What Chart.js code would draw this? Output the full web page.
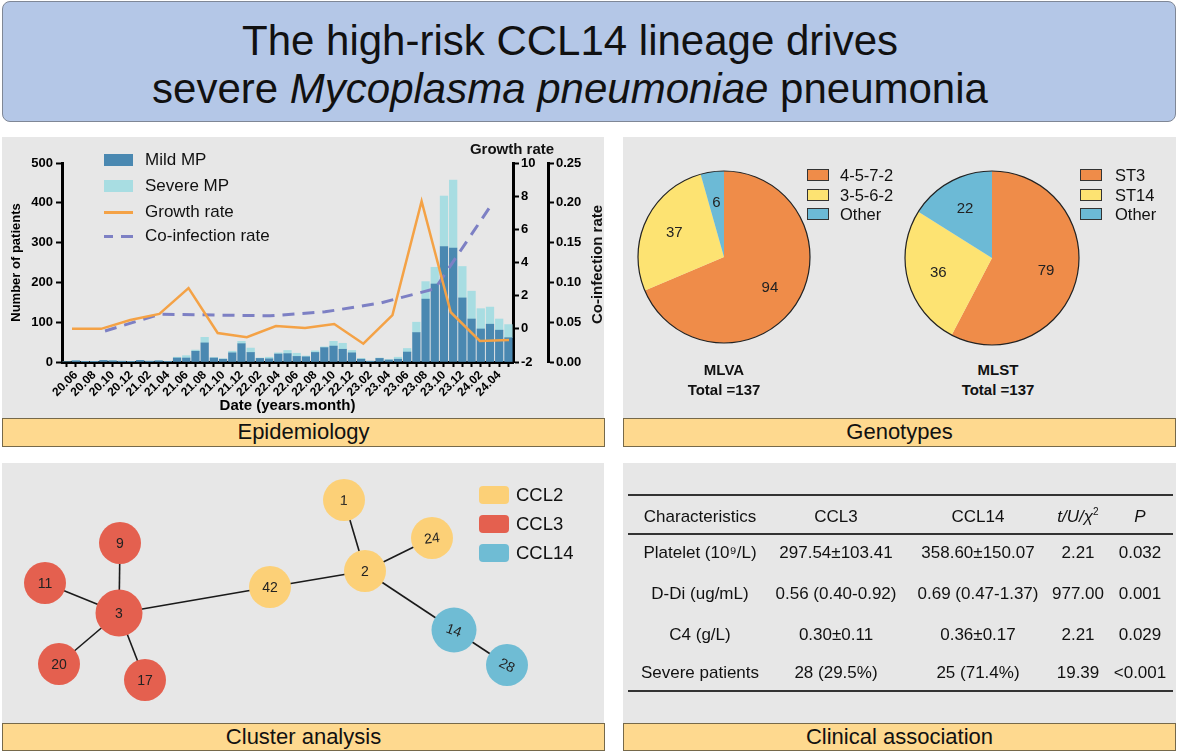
<!DOCTYPE html>
<html>
<head>
<meta charset="utf-8">
<script src="https://cdn.jsdelivr.net/npm/chart.js@4.4.1/dist/chart.umd.min.js"></script>
<style>
  body { margin: 0; width: 1178px; height: 751px; position: relative; overflow: hidden; background: #fff;
         font-family: "Liberation Sans", Arial, sans-serif; color: #111; }
  .abs { position: absolute; }
  #title { left: 2px; top: 1px; width: 1174px; height: 121px; box-sizing: border-box; background: #b4c7e7;
           border: 1px solid #7f8796; border-radius: 8px; text-align: center; font-size: 42px; line-height: 48px;
           padding-top: 15px; padding-right: 38px; }
  .panel { position: absolute; background: #e7e7e7; }
  .tag { position: absolute; box-sizing: border-box; background: #fed98f; border: 1.5px solid #76694a;
         text-align: center; font-size: 22px; line-height: 26px; }
  .leg { position: absolute; font-size: 17px; line-height: 20px; white-space: nowrap; }
  .sw { position: absolute; box-sizing: border-box; }
  .cell { position: absolute; width: 200px; margin-left: -100px; text-align: center; font-size: 17px;
          line-height: 20px; height: 20px; margin-top: -10px; white-space: nowrap; }
  .cell sup { font-size: 10px; line-height: 0; vertical-align: 7px; }
  .rule { position: absolute; left: 628px; width: 545px; height: 2px; background: #333; }
  .bold { font-weight: bold; }
</style>
</head>
<body>
<div id="title" class="abs">The high-risk CCL14 lineage drives<br>severe <i>Mycoplasma pneumoniae</i> pneumonia</div>

<div class="panel" style="left:2px;top:137px;width:602px;height:281px"></div>
<div class="panel" style="left:623px;top:137px;width:553px;height:281px"></div>
<div class="panel" style="left:2px;top:463px;width:602px;height:260px"></div>
<div class="panel" style="left:623px;top:463px;width:553px;height:260px"></div>
<div class="tag" style="left:2px;top:418px;width:603px;height:29px">Epidemiology</div>
<div class="tag" style="left:623px;top:418px;width:553px;height:29px">Genotypes</div>
<div class="tag" style="left:2px;top:723px;width:603px;height:28px">Cluster analysis</div>
<div class="tag" style="left:623px;top:723px;width:553px;height:28px">Clinical association</div>

<canvas id="epi" class="abs" width="602" height="281" style="left:2px;top:137px"></canvas>
<div id="epiLegend"></div>
<div class="abs bold" style="left:462px;top:140px;width:100px;text-align:center;font-size:15px">Growth rate</div>
<div class="abs bold" style="left:536px;top:256px;width:120px;text-align:center;font-size:15px;transform:rotate(-90deg)">Co-infection rate</div>

<canvas id="mlva" class="abs" width="180" height="180" style="left:634px;top:167px"></canvas>
<canvas id="mlst" class="abs" width="180" height="180" style="left:902px;top:168px"></canvas>
<div id="pieLegends"></div>
<div class="abs bold" style="left:664px;top:360px;width:120px;text-align:center;font-size:15px;line-height:20px">MLVA<br>Total =137</div>
<div class="abs bold" style="left:938px;top:360px;width:120px;text-align:center;font-size:15px;line-height:20px">MLST<br>Total =137</div>

<canvas id="cluster" class="abs" width="602" height="260" style="left:2px;top:463px"></canvas>
<div id="clusterLegend"></div>

<div id="table"></div>

<script>
// ---- epidemiology data ----
const months = ['20.05','20.06','20.07','20.08','20.09','20.10','20.11','20.12',
  '21.01','21.02','21.03','21.04','21.05','21.06','21.07','21.08','21.09','21.10','21.11','21.12',
  '22.01','22.02','22.03','22.04','22.05','22.06','22.07','22.08','22.09','22.10','22.11','22.12',
  '23.01','23.02','23.03','23.04','23.05','23.06','23.07','23.08','23.09','23.10','23.11','23.12',
  '24.01','24.02','24.03','24.04','24.05'];
const mildMP = [0,3,1,1,4,3,2,1, 4,2,3,1,10,10,27,48,10,7,23,46,
  24,9,8,20,21,14,13,24,36,40,32,23, 7,2,9,5,7,25,74,158,196,290,286,161, 108,83,95,80,61];
const severeMP = [0,0,0,0,0,0,0,0, 0,0,0,0,2,6,3,14,1,1,4,6,
  11,1,4,3,8,8,2,4,2,12,15,6, 2,0,1,1,5,9,26,44,42,127,171,79, 70,51,43,28,33];
// quarterly growth rate and half-yearly co-infection rate
const growthRate = [0.0, 0.0, 0.53, 0.9, 2.46, -0.25, -0.5, 0.17, 0.05, 0.29, -0.9, 0.83, 7.7, 1.0, -0.73, -0.67];
const coinfectionRate = [0.039, 0.060, 0.059, 0.058, 0.063, 0.074, 0.092, 0.195];
const patientTicks = [0, 500, 100];
const growthTicks = [-2, 10, 2];
const coinfTicks = [0, 0.25, 0.05];

// ---- genotype data ----
const mlvaTypes = ['4-5-7-2', '3-5-6-2', 'Other'];
const mlvaCounts = [94, 37, 6];
const mlstTypes = ['ST3', 'ST14', 'Other'];
const mlstCounts = [79, 36, 22];

// ---- cluster (minimum spanning tree) ----
const nodeIds = ['1', '24', '2', '42', '3', '9', '11', '20', '17', '14', '28'];
const nodeLineage = ['CCL2', 'CCL2', 'CCL2', 'CCL2', 'CCL3', 'CCL3', 'CCL3', 'CCL3', 'CCL3', 'CCL14', 'CCL14'];
const nodeLayoutX = [342, 430, 363, 268, 117, 118, 43, 57, 143, 452, 505];
const nodeLayoutY = [37, 75, 108, 124, 150, 80, 120, 201, 217, 167, 202];
const edges = [['3','9'], ['3','11'], ['3','20'], ['3','17'], ['3','42'], ['42','2'], ['2','1'], ['2','24'], ['2','14'], ['14','28']];
const lineages = ['CCL2', 'CCL3', 'CCL14'];

// ---- clinical table ----
const tableHeader = ['Characteristics', 'CCL3', 'CCL14', '<i>t/U/χ</i><sup>2</sup>', '<i>P</i>'];
const tableRows = [
  ['Platelet (10⁹/L)', '297.54±103.41', '358.60±150.07', '2.21', '0.032'],
  ['D-Di (ug/mL)', '0.56 (0.40-0.92)', '0.69 (0.47-1.37)', '977.00', '0.001'],
  ['C4 (g/L)', '0.30±0.11', '0.36±0.17', '2.21', '0.029'],
  ['Severe patients', '28 (29.5%)', '25 (71.4%)', '19.39', '<0.001']
];

const FONT = '"Liberation Sans", Arial, sans-serif';
const MILD = '#4a88b1';
const SEVERE = '#a8dde2';
const ORANGE = '#f4a246';
const PURPLE = '#7d80c4';
const PIE_COLORS = ['#ef8c49', '#fde372', '#6cbad6'];
const LINEAGE_COLORS = { CCL2: '#fcd077', CCL3: '#e4604f', CCL14: '#6fbcd4' };

Chart.defaults.font.family = FONT;
Chart.defaults.color = '#000';

const bold = (size) => ({ family: FONT, size, weight: 'bold' });

function axisLook(extra) {
  return Object.assign({
    grid: { drawOnChartArea: false, color: '#000', tickColor: '#000', tickLength: 6, tickWidth: 2 },
    border: { color: '#000', width: 3 },
  }, extra);
}

// ---- epidemiology chart ----
const barStyle = { stack: 'mp', grouped: false, barThickness: 7.6, order: 2 };
new Chart(document.getElementById('epi'), {
  type: 'bar',
  data: {
    labels: months,
    datasets: [
      Object.assign({ label: 'Mild MP', data: mildMP, backgroundColor: MILD }, barStyle),
      Object.assign({ label: 'Severe MP', data: severeMP, backgroundColor: SEVERE }, barStyle),
      { type: 'line', label: 'Growth rate', data: growthRate.map((v, i) => ({ x: i, y: v })),
        xAxisID: 'xg', yAxisID: 'yg', borderColor: ORANGE, borderWidth: 2.5, pointRadius: 0, order: 0 },
      { type: 'line', label: 'Co-infection rate', data: coinfectionRate.map((v, i) => ({ x: i, y: v })),
        xAxisID: 'xc', yAxisID: 'yc', borderColor: PURPLE, borderWidth: 3, borderDash: [12, 8], pointRadius: 0, order: 1 }
    ]
  },
  options: {
    responsive: false,
    animation: false,
    layout: { autoPadding: false, padding: { top: 26, left: 0, right: 0, bottom: 0 } },
    plugins: { legend: { display: false }, tooltip: { enabled: false } },
    scales: {
      x: axisLook({
        stacked: true,
        offset: true,
        grid: { drawOnChartArea: false, offset: false, color: '#000', tickColor: '#000', tickLength: 5, tickWidth: 2 },
        ticks: {
          autoSkip: false, maxRotation: 45, minRotation: 45, padding: 1, font: bold(12),
          callback: (v, i) => (Number(months[i].slice(3)) % 2 === 0 ? months[i] : '')
        },
        title: { display: true, text: 'Date (years.month)', font: bold(15), padding: { top: 0, bottom: 3 } },
        afterFit: (s) => { s.height = 56; }
      }),
      y: axisLook({
        position: 'left', stacked: true, min: patientTicks[0], max: patientTicks[1],
        ticks: { stepSize: patientTicks[2], font: bold(13), padding: 3 },
        title: { display: true, text: 'Number of patients', font: bold(13), padding: { top: 7, bottom: 0 } },
        afterFit: (s) => { s.width = 60; }
      }),
      yg: axisLook({
        position: 'right', min: growthTicks[0], max: growthTicks[1],
        ticks: { stepSize: growthTicks[2], font: bold(13), padding: 2 },
        afterFit: (s) => { s.width = 35; }
      }),
      yc: axisLook({
        position: 'right', min: coinfTicks[0], max: coinfTicks[1],
        ticks: { stepSize: coinfTicks[2], font: bold(13), padding: 2, callback: (v) => v.toFixed(2) },
        afterFit: (s) => { s.width = 56; }
      }),
      // hidden axes for the quarterly / half-yearly lines
      xg: { type: 'linear', display: false, offset: false, min: -0.343, max: 15.137 },
      xc: { type: 'linear', display: false, offset: false, min: -0.782, max: 7.418 }
    }
  }
});

// epidemiology legend
(function () {
  const el = document.getElementById('epiLegend');
  const rows = [
    { text: 'Mild MP', y: 160, kind: 'box', color: MILD },
    { text: 'Severe MP', y: 186, kind: 'box', color: SEVERE },
    { text: 'Growth rate', y: 212, kind: 'line', color: ORANGE },
    { text: 'Co-infection rate', y: 236, kind: 'dash', color: PURPLE }
  ];
  rows.forEach(r => {
    if (r.kind === 'box') {
      el.insertAdjacentHTML('beforeend', `<div class="sw" style="left:104px;top:${r.y - 6}px;width:29px;height:12px;background:${r.color}"></div>`);
    } else if (r.kind === 'line') {
      el.insertAdjacentHTML('beforeend', `<div class="sw" style="left:104px;top:${r.y - 1}px;width:29px;height:2.5px;background:${r.color}"></div>`);
    } else {
      el.insertAdjacentHTML('beforeend', `<div class="sw" style="left:104px;top:${r.y - 1}px;width:9px;height:3px;background:${r.color}"></div>
        <div class="sw" style="left:121px;top:${r.y - 1}px;width:12px;height:3px;background:${r.color}"></div>`);
    }
    el.insertAdjacentHTML('beforeend', `<div class="leg" style="left:145px;top:${r.y - 10}px">${r.text}</div>`);
  });
})();

// ---- pies ----
const pieExtras = {
  id: 'pieExtras',
  afterDatasetsDraw(chart) {
    const { ctx } = chart;
    const meta = chart.getDatasetMeta(0);
    const first = meta.data[0];
    ctx.save();
    ctx.beginPath();
    ctx.arc(first.x, first.y, first.outerRadius, 0, Math.PI * 2);
    ctx.lineWidth = 1.2;
    ctx.strokeStyle = '#222';
    ctx.stroke();
    ctx.font = '15px ' + FONT;
    ctx.fillStyle = '#222';
    ctx.textAlign = 'center';
    ctx.textBaseline = 'middle';
    meta.data.forEach((a, i) => {
      const mid = (a.startAngle + a.endAngle) / 2;
      const r = a.outerRadius * 0.64;
      ctx.fillText(chart.data.datasets[0].data[i], a.x + Math.cos(mid) * r, a.y + Math.sin(mid) * r);
    });
    ctx.restore();
  }
};

function makePie(id, labels, values, radius) {
  return new Chart(document.getElementById(id), {
    type: 'pie',
    data: { labels, datasets: [{ data: values, backgroundColor: PIE_COLORS, borderWidth: 0 }] },
    options: {
      responsive: false, animation: false, radius,
      layout: { autoPadding: false },
      plugins: { legend: { display: false }, tooltip: { enabled: false } }
    },
    plugins: [pieExtras]
  });
}
makePie('mlva', mlvaTypes, mlvaCounts, 86);
makePie('mlst', mlstTypes, mlstCounts, 87);

(function () {
  const el = document.getElementById('pieLegends');
  [[mlvaTypes, 807, 840], [mlstTypes, 1080, 1115]].forEach(([names, bx, tx]) => {
    names.forEach((n, i) => {
      const y = 175 + i * 19.7;
      el.insertAdjacentHTML('beforeend',
        `<div class="sw" style="left:${bx}px;top:${y - 6}px;width:22px;height:12px;background:${PIE_COLORS[i]};border:1px solid #333"></div>
         <div class="leg" style="left:${tx}px;top:${y - 10}px;font-size:16.5px">${n}</div>`);
    });
  });
})();

// ---- cluster network ----
const nodeIndex = (id) => nodeIds.indexOf(id);
const nodeRadius = (id) => (id === '3' ? 23.5 : id === '14' ? 22.5 : 21);
const labelTilt = { '14': 0.35, '28': 0.45, '24': -0.12, '1': 0.05 };

const clusterLabels = {
  id: 'clusterLabels',
  afterDatasetsDraw(chart) {
    const { ctx } = chart;
    const meta = chart.getDatasetMeta(edges.length);
    ctx.save();
    ctx.font = '14px ' + FONT;
    ctx.fillStyle = '#222';
    ctx.textAlign = 'center';
    ctx.textBaseline = 'middle';
    meta.data.forEach((p, i) => {
      ctx.save();
      ctx.translate(p.x, p.y);
      ctx.rotate(labelTilt[nodeIds[i]] || 0);
      ctx.fillText(nodeIds[i], 0, 1);
      ctx.restore();
    });
    ctx.restore();
  }
};

const edgeSets = edges.map(([a, b]) => ({
  type: 'line',
  data: [a, b].map(id => ({ x: nodeLayoutX[nodeIndex(id)], y: nodeLayoutY[nodeIndex(id)] })),
  borderColor: '#1a1a1a', borderWidth: 1.6, pointRadius: 0, order: 1
}));

new Chart(document.getElementById('cluster'), {
  type: 'scatter',
  data: {
    datasets: edgeSets.concat([{
      label: 'nodes',
      data: nodeIds.map((id, i) => ({ x: nodeLayoutX[i], y: nodeLayoutY[i] })),
      pointRadius: nodeIds.map(nodeRadius),
      pointBackgroundColor: nodeLineage.map(l => LINEAGE_COLORS[l]),
      pointBorderWidth: 0,
      order: 0
    }])
  },
  options: {
    responsive: false, animation: false,
    layout: { autoPadding: false, padding: 0 },
    plugins: { legend: { display: false }, tooltip: { enabled: false } },
    scales: {
      x: { type: 'linear', display: false, min: 0, max: 602 },
      y: { type: 'linear', display: false, min: 0, max: 260, reverse: true }
    }
  },
  plugins: [clusterLabels]
});

(function () {
  const el = document.getElementById('clusterLegend');
  lineages.forEach((l, i) => {
    const y = 495 + i * 29;
    el.insertAdjacentHTML('beforeend',
      `<div class="sw" style="left:479px;top:${y - 9}px;width:30px;height:18px;border-radius:4px;background:${LINEAGE_COLORS[l]}"></div>
       <div class="leg" style="left:516px;top:${y - 11}px;font-size:18.5px;line-height:22px">${l}</div>`);
  });
})();

// ---- clinical table ----
(function () {
  const el = document.getElementById('table');
  const colX = [700, 836, 978, 1078, 1140];
  const rowY = [553, 594, 635, 673];
  el.insertAdjacentHTML('beforeend', '<div class="rule" style="top:494px"></div><div class="rule" style="top:533px"></div><div class="rule" style="top:690px"></div>');
  tableHeader.forEach((h, c) => {
    el.insertAdjacentHTML('beforeend', `<div class="cell" style="left:${colX[c]}px;top:517px">${h}</div>`);
  });
  tableRows.forEach((row, r) => {
    row.forEach((v, c) => {
      const d = document.createElement('div');
      d.className = 'cell';
      d.style.left = colX[c] + 'px';
      d.style.top = rowY[r] + 'px';
      d.textContent = v;
      el.appendChild(d);
    });
  });
})();
</script>
</body>
</html>
